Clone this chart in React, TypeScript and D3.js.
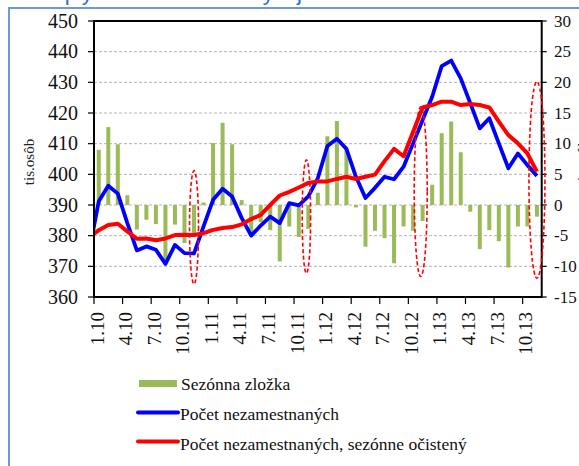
import React from "react";
import * as d3 from "d3";

// mesačné údaje, prvá hodnota línií je 12.2009 (mimo osi, orezaná)
const tickLabels = ["1.10", "4.10", "7.10", "10.10", "1.11", "4.11", "7.11", "10.11",
  "1.12", "4.12", "7.12", "10.12", "1.13", "4.13", "7.13", "10.13"];

// sezónna zložka 1.2010 – 11.2013 (pravá os)
const seasonal = [
  9.0, 12.7, 9.9, 1.6, -4.0, -2.4, -3.1, -8.9, -3.2, -6.2, -4.9, 0.4,
  10.1, 13.4, 9.9, 0.8, -4.7, -2.8, -4.1, -9.2, -3.5, -5.2, -3.9, 2.0,
  11.2, 13.7, 9.1, -0.4, -6.8, -4.2, -5.4, -9.5, -3.5, -4.2, -2.6, 3.3,
  11.7, 13.6, 8.6, -1.1, -7.2, -4.1, -5.9, -10.2, -3.5, -3.5, -1.9,
];

// počet nezamestnaných 12.2009 – 11.2013
const unemployed = [
  375.0,
  391.2, 396.3, 393.7, 384.1, 375.2, 376.5, 375.4, 370.8, 377.0, 374.3, 374.2, 383.0,
  391.7, 395.3, 392.8, 385.8, 380.0, 383.3, 386.2, 384.1, 390.6, 389.9, 392.8, 398.8,
  409.2, 411.6, 408.3, 399.2, 392.3, 395.6, 399.2, 398.4, 402.5, 410.1, 417.7, 425.3,
  435.3, 437.1, 431.3, 423.2, 415.0, 418.3, 410.1, 402.0, 406.8, 403.0, 399.5,
];

// sezónne očistený počet 12.2009 – 11.2013
const adjusted = [
  379.5,
  381.8, 383.5, 383.9, 381.4, 379.0, 379.1, 378.5, 379.1, 380.2, 380.3, 380.2, 380.8,
  381.9, 382.5, 382.8, 383.7, 385.4, 386.8, 390.0, 393.1, 394.3, 395.7, 397.2, 397.7,
  397.7, 398.5, 399.2, 398.5, 399.2, 399.9, 404.3, 408.3, 405.9, 413.9, 421.8, 422.6,
  423.7, 423.7, 422.6, 422.9, 422.6, 421.8, 417.2, 412.8, 410.1, 406.8, 400.9,
];

const leftTicks = [360, 370, 380, 390, 400, 410, 420, 430, 440, 450];
const rightTicks = [-15, -10, -5, 0, 5, 10, 15, 20, 25, 30];

// červené prerušované elipsy (mesiac, horná a dolná hodnota na ľavej osi)
const highlightMonth = [10, 21.8, 33.8, 46];
const highlightTop = [401.2, 404.7, 422, 430.2];
const highlightBottom = [364.2, 367.7, 366.7, 366.1];

const legendItems = ["Sezónna zložka", "Počet nezamestnaných", "Počet nezamestnaných, sezónne očistený"];

const W = 579;
const H = 466;
const plot = { left: 94, right: 541.7, top: 21, bottom: 297 };
const serif = "Liberation Serif, Times New Roman, DejaVu Serif, serif";

export default function App() {
  const x = d3.scaleLinear().domain([0, 47]).range([plot.left, plot.right]);
  const center = (i: number) => x(i + 0.5);
  const yL = d3.scaleLinear().domain([360, 450]).range([plot.bottom, plot.top]);
  const yR = d3.scaleLinear().domain([-15, 30]).range([plot.bottom, plot.top]);

  // linky začínajú 12.2009, t.j. index -1
  const line = d3
    .line<number>()
    .x((_, i) => center(i - 1))
    .y((d) => yL(d))
    .curve(d3.curveLinear);

  const rxs = [4.5, 4.2, 6.5, 8];
  const tickIdx = d3.range(tickLabels.length).map((k) => k * 3);

  return (
    <svg
      width={W}
      height={H}
      style={{ position: "absolute", left: 0, top: 0, background: "#fff", fontFamily: serif }}
    >
      <defs>
        <clipPath id="plotClip">
          <rect x={plot.left} y={plot.top} width={plot.right - plot.left} height={plot.bottom - plot.top} />
        </clipPath>
      </defs>

      {/* nadpis, zvyšok je mimo obrázka */}
      <text x={50} y={0} fontSize={22} fill="#1f6fd1" style={{ fontFamily: "Liberation Sans, Arial, sans-serif" }}>
        Vplyv sezónnosti na vývoj
      </text>

      {/* rámček */}
      <path d={`M9,${H} V8 H${W}`} fill="none" stroke="#6f98d6" strokeWidth={2} />

      {/* mriežka */}
      {leftTicks.slice(1, -1).map((t) => (
        <line key={t} x1={plot.left} x2={plot.right} y1={yL(t)} y2={yL(t)}
          stroke="#b4b4b4" strokeWidth={1} strokeDasharray="3,2" />
      ))}

      {/* sezónna zložka */}
      {seasonal.map((v, i) => (
        <rect key={i} x={center(i) - 2} width={4}
          y={Math.min(yR(v), yR(0))} height={Math.abs(yR(v) - yR(0))} fill="#9bbb59" />
      ))}

      {/* línie */}
      <g clipPath="url(#plotClip)">
        <path d={line(unemployed) || ""} fill="none" stroke="#0000ff" strokeWidth={3.8} strokeLinejoin="round" />
        <path d={line(adjusted) || ""} fill="none" stroke="#ff0000" strokeWidth={4} strokeLinejoin="round" />
      </g>

      {/* rám grafu */}
      <rect x={plot.left} y={plot.top} width={plot.right - plot.left} height={plot.bottom - plot.top}
        fill="none" stroke="#000" strokeWidth={2} />

      {/* ľavá os */}
      {leftTicks.map((t) => (
        <g key={t}>
          <line x1={plot.left - 6} x2={plot.left} y1={yL(t)} y2={yL(t)} stroke="#000" strokeWidth={1.2} />
          <text x={78} y={yL(t)} dy="0.34em" textAnchor="end" fontSize={20} fill="#111">{t}</text>
        </g>
      ))}
      <text transform={`translate(34,162) rotate(-90)`} textAnchor="middle" fontSize={15} fill="#222">tis.osôb</text>

      {/* pravá os */}
      {rightTicks.map((t) => (
        <g key={t}>
          <line x1={plot.right} x2={plot.right + 5} y1={yR(t)} y2={yR(t)} stroke="#000" strokeWidth={1.2} />
          <text x={554} y={yR(t)} dy="0.34em" textAnchor="start" fontSize={17} fill="#111">{t}</text>
        </g>
      ))}
      <text transform={`translate(588,162) rotate(-90)`} textAnchor="middle" fontSize={15} fill="#222">tis.osôb</text>

      {/* os x */}
      {tickIdx.map((m, k) => (
        <g key={m}>
          <line x1={x(m)} x2={x(m)} y1={plot.bottom} y2={plot.bottom + 7} stroke="#000" strokeWidth={1.2} />
          <text transform={`translate(${x(m) + 3},${plot.bottom + 15}) rotate(-90)`}
            textAnchor="end" dominantBaseline="central" fontSize={19} fill="#111">{tickLabels[k]}</text>
        </g>
      ))}

      {/* elipsy */}
      {highlightMonth.map((m, k) => (
        <ellipse key={k} cx={center(m)} cy={(yL(highlightTop[k]) + yL(highlightBottom[k])) / 2}
          rx={rxs[k]} ry={(yL(highlightBottom[k]) - yL(highlightTop[k])) / 2}
          fill="none" stroke="#ff0000" strokeWidth={1.6} strokeDasharray="4,2.5" />
      ))}

      {/* legenda */}
      <rect x={139} y={380} width={38} height={7} fill="#9bbb59" />
      <text x={181} y={390} fontSize={17.5} fill="#111">{legendItems[0]}</text>
      <line x1={138} x2={178} y1={412.5} y2={412.5} stroke="#0000ff" strokeWidth={4} strokeLinecap="round" />
      <text x={180} y={420} fontSize={17.5} fill="#111">{legendItems[1]}</text>
      <line x1={138} x2={178} y1={441.5} y2={441.5} stroke="#ff0000" strokeWidth={4} strokeLinecap="round" />
      <text x={180} y={450} fontSize={17.5} fill="#111">{legendItems[2]}</text>
    </svg>
  );
}
